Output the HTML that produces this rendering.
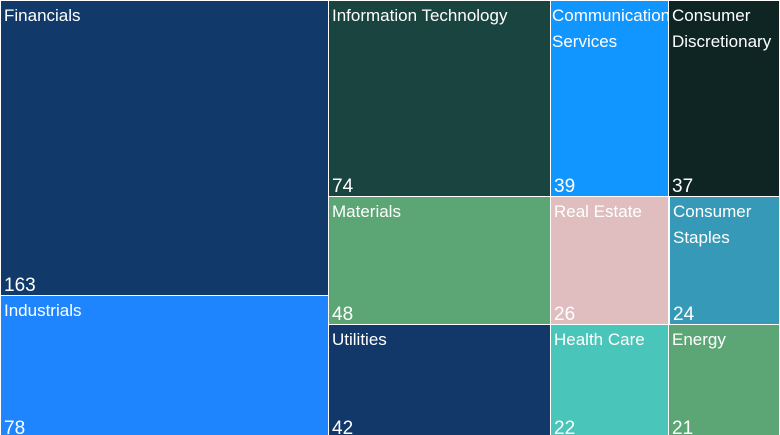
<!DOCTYPE html>
<html>
<head>
<meta charset="utf-8">
<style>
  html,body{margin:0;padding:0;}
  body{width:780px;height:435px;background:#fff;position:relative;overflow:hidden;
       font-family:"Liberation Sans","DejaVu Sans",sans-serif;color:#fff;}
  .b{position:absolute;overflow:hidden;}
  .l{position:absolute;left:3px;top:2px;font-size:17px;line-height:26px;white-space:nowrap;}
  .n{position:absolute;left:3px;bottom:0px;font-size:19px;line-height:19px;white-space:nowrap;}
</style>
</head>
<body>
  <!-- Column 1 -->
  <div class="b" style="left:1px;top:1px;width:327px;height:294px;background:#113a6b;">
    <div class="l">Financials</div><div class="n">163</div>
  </div>
  <div class="b" style="left:1px;top:296px;width:327px;height:139px;background:#1f85fe;">
    <div class="l">Industrials</div><div class="n" style="bottom:-3px">78</div>
  </div>

  <!-- Column 2 -->
  <div class="b" style="left:329px;top:1px;width:221px;height:195px;background:#1a4440;">
    <div class="l">Information Technology</div><div class="n">74</div>
  </div>
  <div class="b" style="left:329px;top:197px;width:221px;height:127px;background:#5ca574;">
    <div class="l">Materials</div><div class="n">48</div>
  </div>
  <div class="b" style="left:329px;top:325px;width:221px;height:110px;background:#12386a;">
    <div class="l">Utilities</div><div class="n" style="bottom:-3px">42</div>
  </div>

  <!-- Column 3 -->
  <div class="b" style="left:551px;top:1px;width:117px;height:195px;background:#1196ff;">
    <div class="l" style="left:1px">Communication<br>Services</div><div class="n">39</div>
  </div>
  <div class="b" style="left:551px;top:197px;width:117px;height:127px;background:#e0bdbe;">
    <div class="l">Real Estate</div><div class="n">26</div>
  </div>
  <div class="b" style="left:551px;top:325px;width:117px;height:110px;background:#4ac5b9;">
    <div class="l">Health Care</div><div class="n" style="bottom:-3px">22</div>
  </div>

  <!-- Column 4 -->
  <div class="b" style="left:669px;top:1px;width:110px;height:195px;background:#0f2524;">
    <div class="l">Consumer<br>Discretionary</div><div class="n">37</div>
  </div>
  <div class="b" style="left:670px;top:197px;width:109px;height:127px;background:#3599b7;">
    <div class="l">Consumer<br>Staples</div><div class="n">24</div>
  </div>
  <div class="b" style="left:669px;top:325px;width:110px;height:110px;background:#5ca574;">
    <div class="l">Energy</div><div class="n" style="bottom:-3px">21</div>
  </div>
</body>
</html>
